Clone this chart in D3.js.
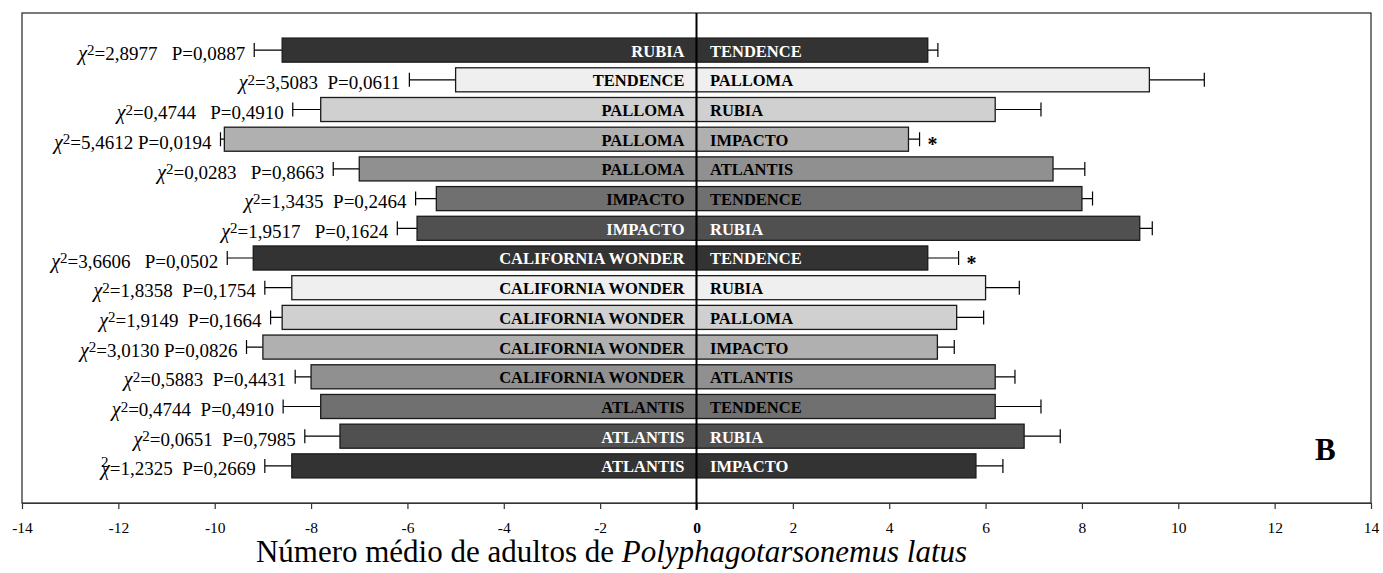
<html>
<head>
    <script src="https://d3js.org/d3.v7.min.js"></script>
    <style>
        body { margin: 0; background: #fff; }
        text { font-family: "Liberation Serif", "Times New Roman", serif; }
        .stat { white-space: pre; }
    </style>
</head>
<body>
    <script>
        // cultivars on each side of the choice test, top to bottom
        var leftNames = ["RUBIA", "TENDENCE", "PALLOMA", "PALLOMA", "PALLOMA", "IMPACTO", "IMPACTO",
            "CALIFORNIA WONDER", "CALIFORNIA WONDER", "CALIFORNIA WONDER", "CALIFORNIA WONDER", "CALIFORNIA WONDER",
            "ATLANTIS", "ATLANTIS", "ATLANTIS"];
        var rightNames = ["TENDENCE", "PALLOMA", "RUBIA", "IMPACTO", "ATLANTIS", "TENDENCE", "RUBIA",
            "TENDENCE", "RUBIA", "PALLOMA", "IMPACTO", "ATLANTIS",
            "TENDENCE", "RUBIA", "IMPACTO"];

        var leftMeans = [8.6, 5.0, 7.8, 9.8, 7.0, 5.4, 5.8, 9.2, 8.4, 8.6, 9.0, 8.0, 7.8, 7.4, 8.4];
        var leftErr = [0.58, 0.96, 0.58, 0.08, 0.54, 0.43, 0.41, 0.54, 0.56, 0.24, 0.34, 0.33, 0.78, 0.73, 0.56];
        var rightMeans = [4.8, 9.4, 6.2, 4.4, 7.4, 8.0, 9.2, 4.8, 6.0, 5.4, 5.0, 6.2, 6.2, 6.8, 5.8];
        var rightErr = [0.21, 1.14, 0.95, 0.23, 0.66, 0.22, 0.26, 0.64, 0.70, 0.56, 0.35, 0.41, 0.95, 0.75, 0.56];

        // chi-square test text (after the chi symbol) and significance marks
        var statText = ["=2,8977   P=0,0887", "=3,5083  P=0,0611", "=0,4744   P=0,4910", "=5,4612 P=0,0194",
            "=0,0283   P=0,8663", "=1,3435  P=0,2464", "=1,9517   P=0,1624", "=3,6606   P=0,0502",
            "=1,8358  P=0,1754", "=1,9149  P=0,1664", "=3,0130 P=0,0826", "=0,5883  P=0,4431",
            "=0,4744  P=0,4910", "=0,0651  P=0,7985", "=1,2325  P=0,2669"];
        var significant = [false, false, false, true, false, false, false, true,
            false, false, false, false, false, false, false];

        var tickValues = [-14, -12, -10, -8, -6, -4, -2, 0, 2, 4, 6, 8, 10, 12, 14];
        var xTitle = "Número médio de adultos de ";
        var xTitleItalic = "Polyphagotarsonemus latus";
        var panelLetter = "B";

        var greys = ["#333333", "#efefef", "#d0d0d0", "#b0b0b0", "#909090", "#707070", "#505050"];
        var labelInk = ["#fff", "#000", "#000", "#000", "#000", "#000", "#fff"];

        var width = 1383, height = 573;
        var padL = 22, padR = 1371, padT = 13, padB = 503;

        var svg = d3.select("body").append("svg")
            .attr("width", width)
            .attr("height", height);

        svg.append("rect")
            .attr("width", width).attr("height", height)
            .attr("fill", "#fff");

        var x = d3.scaleLinear().domain([-14, 14]).range([padL, padR]);
        var y = d3.scaleBand().domain(d3.range(leftNames.length))
            .range([padT, padB])
            .paddingInner(0.19)
            .paddingOuter(0.845);

        var rows = d3.range(leftNames.length).map(function (i) {
            return {
                i: i, ln: leftNames[i], rn: rightNames[i],
                lm: leftMeans[i], le: leftErr[i], rm: rightMeans[i], re: rightErr[i],
                stat: statText[i], sig: significant[i]
            };
        });

        // frame
        svg.append("rect")
            .attr("x", padL).attr("y", padT)
            .attr("width", padR - padL).attr("height", padB - padT)
            .attr("fill", "none")
            .attr("stroke", "#222")
            .attr("stroke-width", 1.2);

        var x0 = x(0);
        var half = 7;

        var row = svg.selectAll(".row")
            .data(rows)
            .enter().append("g")
            .attr("class", "row")
            .attr("transform", function (d) { return "translate(0," + y(d.i) + ")"; });

        var bw = y.bandwidth();

        // error bars (drawn first, bars cover the inner part)
        row.append("path")
            .attr("d", function (d) {
                var a = x(-d.lm), b = x(-(d.lm + d.le)), c = bw / 2;
                return "M" + a + "," + c + "H" + b + "M" + b + "," + (c - half) + "V" + (c + half);
            })
            .attr("stroke", "#000").attr("stroke-width", 1.2).attr("fill", "none");
        row.append("path")
            .attr("d", function (d) {
                var a = x(d.rm), b = x(d.rm + d.re), c = bw / 2;
                return "M" + a + "," + c + "H" + b + "M" + b + "," + (c - half) + "V" + (c + half);
            })
            .attr("stroke", "#000").attr("stroke-width", 1.2).attr("fill", "none");

        row.append("rect")
            .attr("x", function (d) { return x(-d.lm); })
            .attr("width", function (d) { return x0 - x(-d.lm); })
            .attr("height", bw)
            .attr("fill", function (d) { return greys[d.i % 7]; })
            .attr("stroke", "#1a1a1a").attr("stroke-width", 1.3);
        row.append("rect")
            .attr("x", x0)
            .attr("width", function (d) { return x(d.rm) - x0; })
            .attr("height", bw)
            .attr("fill", function (d) { return greys[d.i % 7]; })
            .attr("stroke", "#1a1a1a").attr("stroke-width", 1.3);

        // cultivar names
        row.append("text")
            .attr("x", x0 - 12)
            .attr("y", bw / 2 + 6.5)
            .attr("text-anchor", "end")
            .attr("font-size", "16.5px").attr("font-weight", "bold")
            .attr("fill", function (d) { return labelInk[d.i % 7]; })
            .text(function (d) { return d.ln; });
        row.append("text")
            .attr("x", x0 + 13.5)
            .attr("y", bw / 2 + 6.5)
            .attr("font-size", "16.5px").attr("font-weight", "bold")
            .attr("fill", function (d) { return labelInk[d.i % 7]; })
            .text(function (d) { return d.rn; });

        // chi-square labels
        var stat = row.append("text")
            .attr("class", "stat")
            .attr("x", function (d) { return x(-(d.lm + d.le)) - 9; })
            .attr("y", bw / 2 + 9.6)
            .attr("text-anchor", "end")
            .attr("font-size", "19px");
        stat.each(function (d) {
            var t = d3.select(this);
            if (d.i === rows.length - 1) {
                // the exponent slipped onto the chi in the original
                t.append("tspan").attr("font-size", "15px").attr("dy", -8).text("2");
                t.append("tspan").attr("font-style", "italic").attr("font-size", "20px")
                    .attr("dx", -7.5).attr("dy", 8).text("χ");
                t.append("tspan").text(d.stat);
            } else {
                t.append("tspan").attr("font-style", "italic").attr("font-size", "20px").text("χ");
                t.append("tspan").attr("font-size", "15px").attr("dy", -4.5).text("2");
                t.append("tspan").attr("dy", 4.5).text(d.stat);
            }
        });

        // significance stars
        row.filter(function (d) { return d.sig; })
            .append("text")
            .attr("x", function (d) { return x(d.rm + d.re) + 8; })
            .attr("y", bw / 2 + 12)
            .attr("font-size", "20px").attr("font-weight", "bold")
            .text("*");

        // x axis
        var axis = svg.append("g")
            .attr("transform", "translate(0," + padB + ")")
            .call(d3.axisBottom(x)
                .tickValues(tickValues)
                .tickSize(6)
                .tickSizeOuter(0)
                .tickFormat(function (d) { return String(d); }));
        axis.attr("font-family", null).attr("font-size", null);
        axis.select(".domain").attr("stroke", "#333").attr("stroke-width", 1.2);
        axis.selectAll(".tick line").attr("stroke", "#333").attr("stroke-width", 1.2);
        axis.selectAll(".tick text")
            .attr("y", 19)
            .attr("fill", "#000")
            .style("font-family", "'Liberation Serif', serif")
            .style("font-size", "15.5px")
            .style("font-weight", function (d) { return d === 0 ? "bold" : "normal"; });

        // zero line
        svg.append("line")
            .attr("x1", x0).attr("x2", x0)
            .attr("y1", padT).attr("y2", padB + 7)
            .attr("stroke", "#000").attr("stroke-width", 2);

        // axis title
        var title = svg.append("text")
            .attr("x", 611.5).attr("y", 562)
            .attr("text-anchor", "middle")
            .attr("font-size", "31px");
        title.append("tspan").text(xTitle);
        title.append("tspan").attr("font-style", "italic").text(xTitleItalic);

        svg.append("text")
            .attr("x", 1315).attr("y", 460)
            .attr("font-size", "31px").attr("font-weight", "bold")
            .text(panelLetter);
    </script>
</body>
</html>
